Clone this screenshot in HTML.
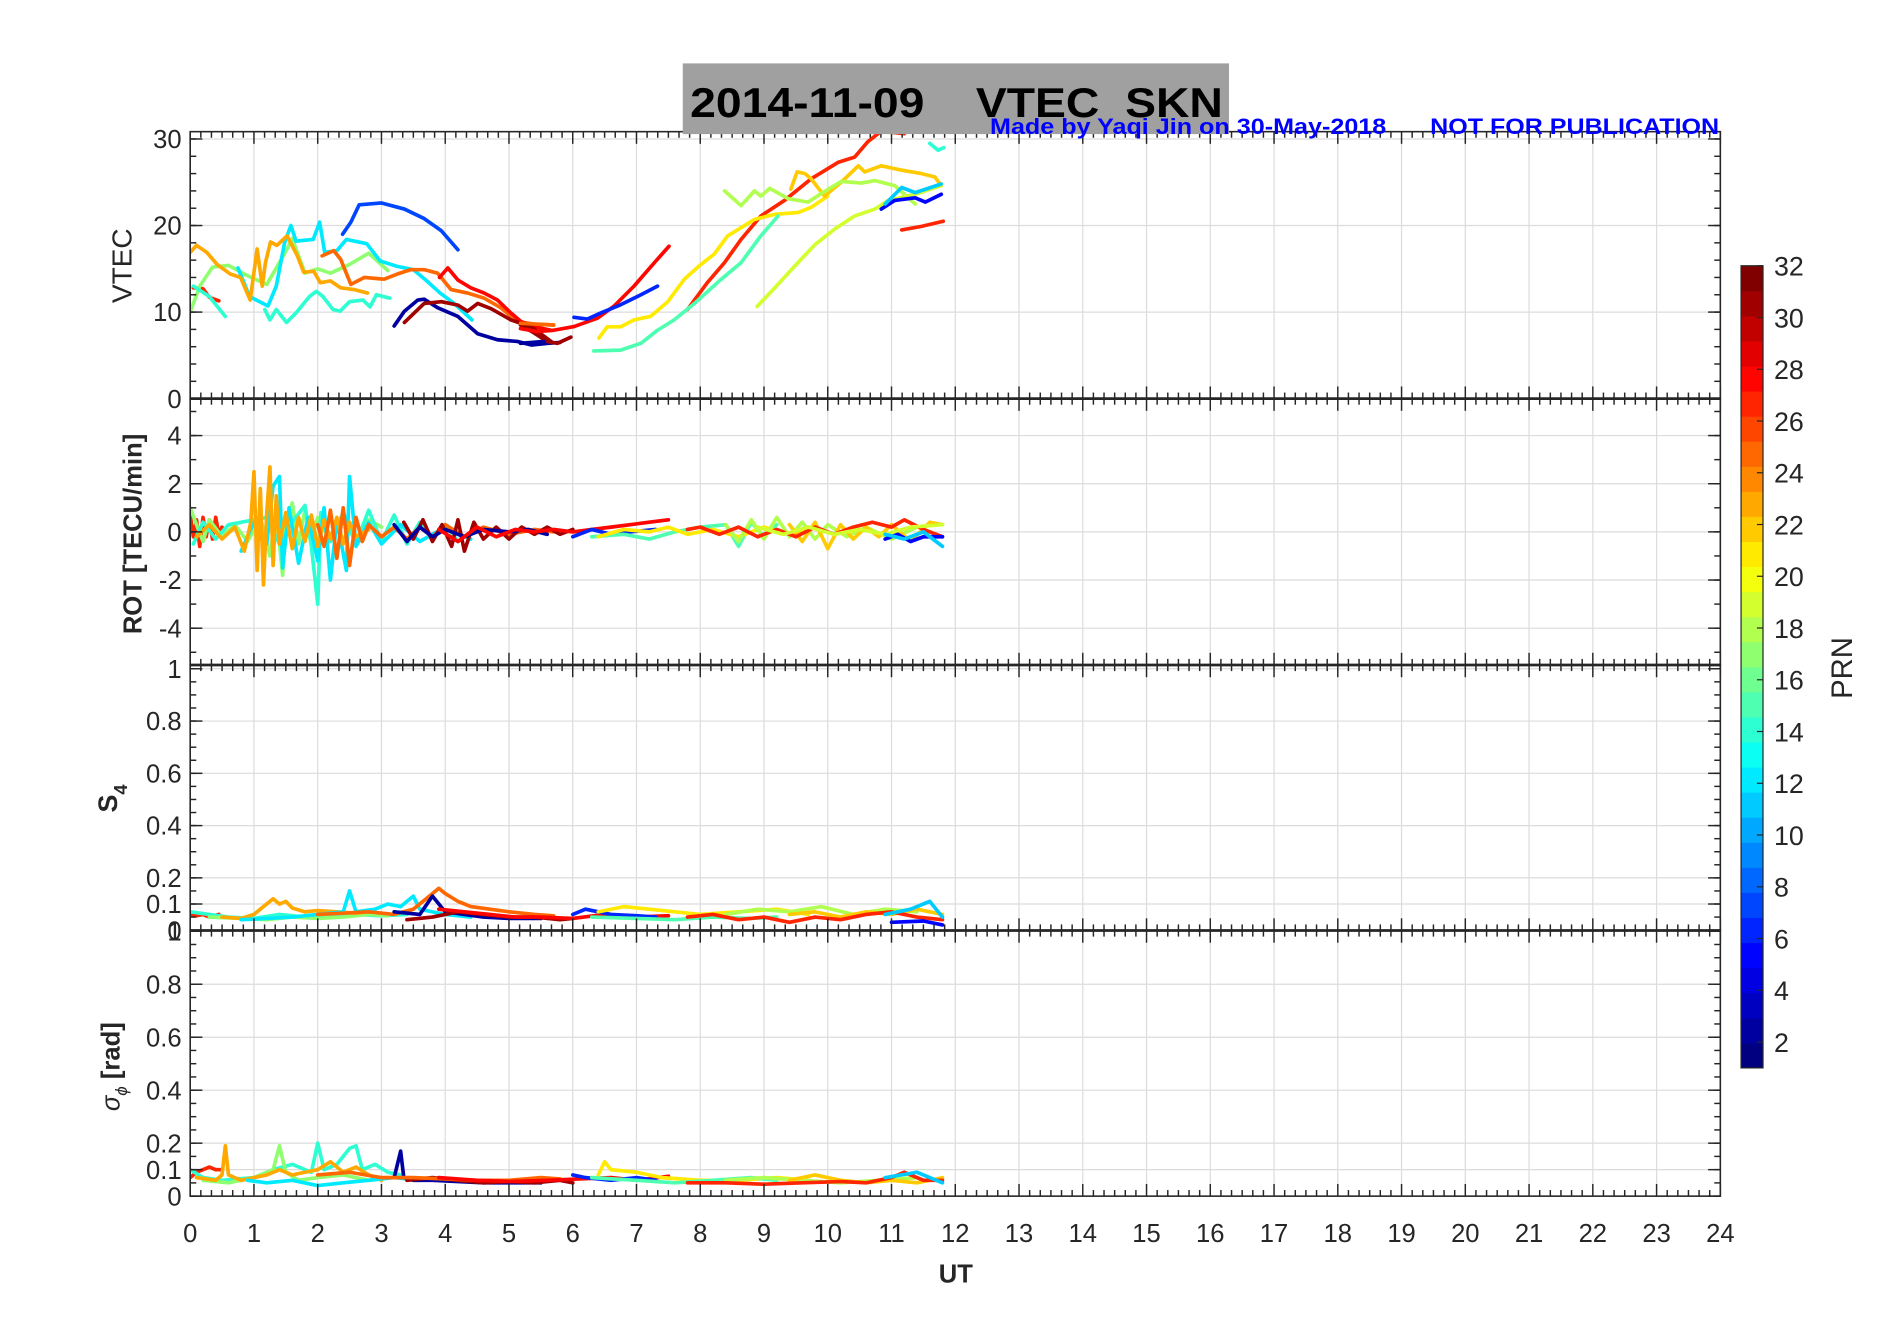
<!DOCTYPE html>
<html><head><meta charset="utf-8"><title>VTEC SKN</title>
<style>html,body{margin:0;padding:0;background:#fff}svg{display:block}</style></head>
<body>
<svg id="chart" width="1902" height="1330" viewBox="0 0 1560 1091" preserveAspectRatio="none" xmlns="http://www.w3.org/2000/svg" font-family="Liberation Sans, sans-serif">
<rect x="0" y="0" width="1560" height="1091" fill="#fff"/>
<g id="grid"></g>
<g id="series"></g>
<g id="axes"></g>
<rect x="560" y="52" width="448" height="58" fill="#a0a0a0"/>
<text x="566" y="96" font-size="34" font-weight="bold" fill="#000" textLength="437" lengthAdjust="spacingAndGlyphs" xml:space="preserve">2014-11-09    VTEC  SKN</text>
<text x="812" y="110" font-size="18" font-weight="bold" fill="#0000ff" textLength="325" lengthAdjust="spacingAndGlyphs">Made by Yaqi Jin on 30-May-2018</text>
<text x="1173" y="110" font-size="18" font-weight="bold" fill="#0000ff" textLength="237" lengthAdjust="spacingAndGlyphs">NOT FOR PUBLICATION</text>
<text transform="translate(108,218) rotate(-90)" text-anchor="middle" font-size="23" fill="#262626">VTEC</text>
<text transform="translate(116,438) rotate(-90)" text-anchor="middle" font-size="21" font-weight="bold" fill="#262626">ROT [TECU/min]</text>
<text transform="translate(96,655) rotate(-90)" text-anchor="middle" font-size="22" font-weight="bold" fill="#262626">S<tspan font-size="15" dy="8">4</tspan></text>
<text transform="translate(98,875) rotate(-90)" text-anchor="middle" font-size="21" font-weight="bold" fill="#262626"><tspan font-style="italic" font-weight="normal">σ</tspan><tspan font-style="italic" font-weight="normal" font-size="14" dy="6">ϕ</tspan><tspan dy="-6"> [rad]</tspan></text>
<text x="784" y="1052" text-anchor="middle" font-size="21" font-weight="bold" fill="#262626">UT</text>
<g id="cbar"></g>
<text transform="translate(1519,548) rotate(-90)" text-anchor="middle" font-size="24" fill="#262626">PRN</text>
</svg>
<script>
// ---------- data ----------
const xTicks = [0,1,2,3,4,5,6,7,8,9,10,11,12,13,14,15,16,17,18,19,20,21,22,23,24];
const vtecTicks = [0,10,20,30];
const rotTicks = [-4,-2,0,2,4];
const s4Ticks = [0,0.1,0.2,0.4,0.6,0.8,1];
const sigTicks = [0,0.1,0.2,0.4,0.6,0.8,1];
const cbarTicks = [2,4,6,8,10,12,14,16,18,20,22,24,26,28,30,32];

const vtecPrn = [27,17,14,12,7,14,23,25,28,2,31,31,2,25,28,6,27,21,22,15,18,19,5,11,27,14];
const vtecT = [
 [0.05,0.2,0.3,0.45],
 [0,0.15,0.35,0.6,0.9,1.2,1.5,1.6,1.8,2.0,2.2,2.5,2.8,3.1],
 [0.05,0.3,0.55],
 [0.75,0.93,1.22,1.35,1.48,1.58,1.66,1.93,2.03,2.11,2.3,2.45,2.77,2.98,3.24,3.5,3.71,3.92,4.13,4.42],
 [2.39,2.52,2.65,3.0,3.36,3.67,3.94,4.2],
 [1.17,1.25,1.35,1.51,1.66,1.87,1.98,2.08,2.24,2.35,2.5,2.71,2.82,2.92,3.13],
 [0,0.1,0.26,0.42,0.63,0.79,0.94,1.05,1.13,1.18,1.26,1.36,1.52,1.68,1.78,1.94,2.04,2.2,2.36,2.57,2.78],
 [2.07,2.25,2.36,2.52,2.73,3.04,3.25,3.46,3.67,3.88,4.09,4.35,4.61,4.87,5.13,5.4,5.7],
 [3.91,4.04,4.2,4.4,4.61,4.82,5.03,5.19,5.4,5.66],
 [3.2,3.36,3.57,3.67,3.88,4.2,4.51,4.82,5.13,5.35,5.61,5.8],
 [3.36,3.67,3.94,4.2,4.35,4.51,4.72,5.03,5.35,5.66],
 [5.18,5.39,5.6,5.76,5.97],
 [5.18,5.55],
 [5.18,5.7],
 [5.18,5.44,5.7,6.02,6.39,6.65,6.96,7.28,7.51],
 [6.02,6.23,6.44,6.75,7.07,7.33],
 [7.8,8.11,8.38,8.64,8.95,9.32,9.74,10.16,10.42,10.63,10.84,11.2],
 [6.41,6.54,6.75,6.96,7.22,7.49,7.75,8.01,8.22,8.43,8.85,9.17,9.54,9.74,10.0],
 [9.42,9.52,9.64,9.74,9.95,10.21,10.48,10.58,10.84,11.16,11.47,11.68,11.78],
 [6.33,6.75,7.07,7.33,7.59,7.91,8.33,8.64,8.95,9.22],
 [8.38,8.64,8.85,8.95,9.09,9.38,9.69,9.9,10.21,10.53,10.74,11.05,11.37],
 [8.89,9.17,9.48,9.8,10.11,10.42,10.74,10.95,11.37,11.78],
 [10.84,11.05,11.37,11.53,11.78],
 [10.9,11.16,11.37,11.78],
 [11.16,11.47,11.81],
 [11.6,11.73,11.82]
];
const vtecV = [
 [12.8,12.7,11.7,11.3],
 [10,13,15.2,15.4,14.2,13.2,17,18.5,14.5,15,14.5,15.5,16.8,14.8],
 [13,11.8,9.5],
 [15.1,11.8,10.7,13,18,20,18.2,18.4,20.4,16.9,17.1,18.4,17.9,15.9,15.3,14.9,13.6,12.2,11.05,9.1],
 [19,20.4,22.4,22.6,21.9,20.8,19.4,17.2],
 [10.3,9.1,10.3,8.8,9.9,11.8,12.4,11.8,10.3,10.1,11.2,11.4,10.6,12,11.6],
 [16.9,17.7,16.9,15.5,14.4,14,11.4,17.3,13,15.7,18.1,17.7,18.8,16.5,14.6,14.7,13.4,13.6,12.8,12.6,12.2],
 [16.5,17.1,16.1,13.2,14,13.8,14.4,14.9,14.9,14.5,12.6,12.2,11.6,10.5,8.9,8.6,8.5],
 [14,15.1,13.7,12.8,12.2,11.4,9.9,8.9,8.3,7.9],
 [8.4,10.1,11.4,11.5,10.5,9.5,7.5,6.8,6.6,6.2,6.4,6.5],
 [8.8,11,11.2,10.8,10.1,11,10.4,9.1,8.3,6.6],
 [8.5,7.6,6.6,6.4,7.1],
 [6.4,6.6],
 [8.7,8.5],
 [8.1,7.75,7.9,8.33,9.3,10.7,13,15.7,17.6],
 [9.4,9.2,9.9,10.85,12,13],
 [10.3,13.4,15.7,18.4,21.1,22.9,25.4,27.3,27.9,29.7,30.9,30.6],
 [7,8.3,8.3,9.1,9.5,11.2,13.8,15.5,16.7,18.8,20.7,21.3,21.5,22.1,23.4],
 [24.2,26.2,26.0,25.4,23.4,25,26.9,26.2,26.9,26.4,26,25.6,24.6],
 [5.5,5.6,6.4,7.9,9.1,11,13.8,15.7,18.8,21.1],
 [24,22.3,24,23.4,24.3,23.1,22.7,23.7,25.1,24.9,25.2,24.6,22.5],
 [10.65,12.8,15.3,17.8,19.6,21.1,21.9,22.9,23.6,24.6],
 [21.9,22.9,23.2,22.7,23.6],
 [22.5,24.4,23.8,24.8],
 [19.5,19.9,20.5],
 [29.5,28.7,29]
];

const rotPrn = [27,17,14,12,23,25,31,2,28,6,15,21,18,22,27,19,5,11];
const rotT = [
 [0,0.05,0.1,0.15,0.2,0.25,0.3,0.35,0.4,0.45,0.5],
 [0,0.1,0.2,0.3,0.5,0.7,0.9,1.1,1.25,1.35,1.45,1.5,1.6,1.7,1.8,1.9,2.0,2.2,2.4,2.6,2.8,3.0],
 [0.05,0.2,0.4,0.6,1.2,1.4,1.6,1.8,1.9,2.0,2.05,2.2,2.4,2.6,2.8,3.0,3.2,3.4,3.6,3.8,4.0,4.2],
 [0.8,1.0,1.2,1.3,1.4,1.45,1.55,1.7,1.85,2.0,2.1,2.2,2.3,2.45,2.5,2.6,2.8,3.0,3.3,3.6,4.0,4.4],
 [0.1,0.3,0.5,0.7,0.85,0.95,1.0,1.05,1.1,1.15,1.2,1.25,1.3,1.35,1.4,1.5,1.6,1.7,1.8,1.9,2.0,2.1,2.2,2.3,2.4,2.5,2.6,2.8],
 [2.0,2.1,2.2,2.3,2.4,2.5,2.6,2.7,2.8,3.0,3.2,3.4,3.6,3.8,4.0,4.3,4.6,5.0,5.4,5.7],
 [3.35,3.5,3.65,3.8,3.95,4.1,4.2,4.3,4.45,4.6,4.8,5.0,5.2,5.4,5.6,5.8,6.0],
 [3.2,3.4,3.6,3.8,4.0,4.3,4.6,5.0,5.3,5.6],
 [3.9,4.2,4.5,4.8,5.1,5.4,5.7,6.0,6.3,6.6,6.9,7.2,7.5],
 [6.0,6.3,6.6,6.9,7.3],
 [6.3,6.8,7.2,7.6,8.0,8.4,8.6,8.8,9.0,9.2],
 [6.4,6.8,7.2,7.5,7.8,8.2,8.6,9.0,9.4,9.7],
 [8.4,8.6,8.8,9.0,9.2,9.4,9.6,9.8,10.0,10.3,10.6,11.0,11.4],
 [9.4,9.6,9.8,10.0,10.2,10.4,10.6,10.8,11.0,11.3,11.6,11.8],
 [7.8,8.0,8.3,8.6,8.9,9.2,9.5,9.8,10.1,10.4,10.7,11.0,11.2,11.5,11.8],
 [8.9,9.3,9.7,10.1,10.5,10.9,11.3,11.8],
 [10.9,11.1,11.3,11.5,11.8],
 [10.9,11.2,11.5,11.8]
];
const rotV = [
 [0.7,-0.2,0.5,-0.6,0.6,-0.2,0.5,-0.3,0.6,-0.1,0.2],
 [1.0,0.3,-0.4,0.5,-0.2,0.3,-0.4,0.6,-1.0,0.9,-1.8,0.4,1.2,-0.5,0.9,-0.3,0.6,-0.4,0.4,-0.3,0.5,0.2],
 [-0.5,0.4,-0.3,0.3,0.6,-0.5,0.4,1.1,-0.6,-3.0,0.8,-0.4,0.8,-0.5,0.9,-0.4,0.7,-0.5,0.4,-0.3,0.3,-0.4],
 [-0.8,0.4,-0.5,1.9,2.3,-1.5,1.0,-1.3,0.6,-1.2,1.0,-2.0,0.5,-1.6,2.3,-0.6,0.4,-0.5,0.3,-0.4,0.2,-0.3],
 [-0.2,0.3,-0.3,0.2,-0.8,0.4,2.5,-1.6,1.8,-2.2,0.8,2.7,-1.4,1.5,-0.5,0.8,-0.7,0.6,-0.4,0.7,-0.6,0.5,-0.3,0.6,-0.5,0.4,-0.2,0.1],
 [0.3,-0.6,0.9,-1.1,1.0,-1.4,0.6,-0.4,0.3,-0.2,0.2,-0.3,0.2,-0.2,0.3,-0.2,0.2,-0.1,0.1,0.0],
 [0.4,-0.3,0.5,-0.4,0.3,-0.6,0.5,-0.8,0.4,-0.3,0.2,-0.3,0.2,-0.1,0.2,-0.1,0.1],
 [0.3,-0.4,0.2,-0.2,0.1,-0.2,0.1,0.0,0.1,-0.1],
 [0.1,-0.4,0.2,-0.2,0.1,0.0,0.1,0.0,0.1,0.2,0.3,0.4,0.5],
 [-0.2,0.1,-0.1,0.0,0.1],
 [-0.2,-0.1,-0.3,0.0,0.2,0.3,-0.6,0.4,-0.2,0.3],
 [-0.2,0.1,0.0,0.2,-0.1,0.1,-0.2,0.2,-0.1,0.1],
 [0.3,-0.4,0.5,-0.3,0.6,-0.2,0.4,-0.3,0.3,-0.2,0.2,-0.3,0.2],
 [0.3,-0.4,0.4,-0.7,0.3,-0.3,0.2,-0.2,0.3,-0.4,0.4,0.3],
 [0.1,0.2,-0.1,0.2,-0.2,0.1,-0.2,0.2,-0.1,0.2,0.4,0.2,0.5,0.1,-0.2],
 [0.2,-0.1,0.2,-0.1,0.1,-0.1,0.2,0.3],
 [-0.3,-0.1,-0.4,-0.2,-0.2],
 [-0.1,-0.3,0.0,-0.6]
];

const s4Prn = [27,14,17,23,12,25,2,31,28,6,21,15,18,22,27,11,5];
const s4T = [
 [0,0.1,0.2,0.3,0.45],
 [0,0.3,0.6,1.0,1.4,1.8,2.2,2.6,3.0,3.4],
 [0.3,0.8,1.2,1.6,2.0,2.4,2.8,3.1],
 [0.5,0.8,1.0,1.1,1.3,1.4,1.5,1.6,1.8,2.0,2.3,2.6,2.8],
 [0.8,1.2,1.6,2.0,2.4,2.5,2.6,2.9,3.1,3.3,3.5,3.6,3.8,4.0,4.4],
 [2.0,2.4,2.8,3.2,3.5,3.7,3.9,4.0,4.2,4.4,4.7,5.0,5.4,5.7],
 [3.2,3.6,3.8,4.0,4.3,4.6,5.0,5.5],
 [3.4,3.8,4.2,4.6,5.0,5.4,5.8,6.0],
 [3.9,4.3,4.7,5.1,5.5,6.0,6.5,7.0,7.5],
 [6.0,6.2,6.6,7.0,7.3],
 [6.4,6.8,7.2,7.6,8.0,8.6,9.2,9.7],
 [6.3,7.0,7.6,8.2,8.8,9.2],
 [8.4,8.9,9.4,9.9,10.4,10.9,11.4],
 [9.4,9.8,10.2,10.6,11.0,11.4,11.8],
 [7.8,8.2,8.6,9.0,9.4,9.8,10.2,10.6,11.0,11.4,11.8],
 [10.9,11.3,11.6,11.8],
 [11.0,11.5,11.8]
];
const s4V = [
 [0.06,0.055,0.06,0.05,0.06],
 [0.07,0.06,0.05,0.045,0.06,0.05,0.055,0.06,0.055,0.06],
 [0.05,0.045,0.04,0.05,0.045,0.05,0.06,0.055],
 [0.05,0.045,0.06,0.08,0.12,0.1,0.11,0.085,0.07,0.075,0.07,0.065,0.07],
 [0.04,0.045,0.05,0.06,0.07,0.15,0.07,0.08,0.1,0.09,0.13,0.08,0.07,0.06,0.05],
 [0.06,0.065,0.07,0.06,0.08,0.12,0.16,0.14,0.11,0.09,0.08,0.07,0.06,0.055],
 [0.07,0.06,0.13,0.07,0.06,0.05,0.045,0.045],
 [0.04,0.05,0.07,0.06,0.05,0.05,0.04,0.045],
 [0.08,0.07,0.06,0.05,0.05,0.045,0.06,0.05,0.055],
 [0.06,0.08,0.06,0.055,0.05],
 [0.07,0.09,0.08,0.07,0.06,0.07,0.08,0.06],
 [0.05,0.045,0.04,0.05,0.045,0.05],
 [0.06,0.08,0.07,0.09,0.06,0.08,0.07],
 [0.06,0.07,0.05,0.07,0.06,0.08,0.06],
 [0.05,0.06,0.04,0.05,0.03,0.05,0.04,0.06,0.07,0.05,0.04],
 [0.06,0.08,0.11,0.05],
 [0.03,0.035,0.02]
];

const sigPrn = [27,14,17,23,12,2,31,25,28,6,21,15,18,22,27,11];
const sigT = [
 [0,0.1,0.2,0.3,0.4,0.5],
 [0,0.2,0.5,1.0,1.3,1.6,1.9,2.0,2.1,2.3,2.5,2.6,2.7,2.9,3.1,3.3],
 [0.2,0.6,1.0,1.3,1.4,1.5,1.7,2.0,2.4,2.8,3.0],
 [0.1,0.4,0.5,0.55,0.6,0.8,1.0,1.2,1.4,1.6,1.8,2.0,2.2,2.4,2.6,2.8,3.0],
 [0.9,1.2,1.6,2.0,2.4,2.8,3.2,3.6,4.0,4.4],
 [3.2,3.3,3.35,3.5,3.8,4.2,4.6,5.0,5.5],
 [3.4,3.8,4.2,4.6,5.0,5.4,5.8,6.0],
 [2.0,2.5,3.0,3.5,4.0,4.5,5.0,5.5,5.8],
 [3.9,4.5,5.0,5.6,6.1,6.6,7.0,7.5],
 [6.0,6.2,6.6,7.0,7.3],
 [6.4,6.5,6.6,7.0,7.4,8.0,8.6,9.2,9.7],
 [6.3,7.0,7.6,8.2,8.8,9.2],
 [8.4,9.0,9.6,10.2,10.8,11.4],
 [9.4,9.8,10.2,10.6,11.0,11.4,11.8],
 [7.8,8.4,9.0,9.6,10.2,10.6,11.0,11.2,11.5,11.8],
 [10.9,11.4,11.8]
];
const sigV = [
 [0.07,0.09,0.1,0.11,0.1,0.1],
 [0.1,0.07,0.06,0.07,0.1,0.12,0.09,0.2,0.1,0.12,0.18,0.19,0.1,0.12,0.09,0.08],
 [0.06,0.05,0.07,0.1,0.19,0.09,0.06,0.07,0.08,0.06,0.07],
 [0.07,0.06,0.08,0.19,0.08,0.06,0.07,0.08,0.1,0.08,0.09,0.1,0.13,0.09,0.11,0.08,0.06],
 [0.06,0.05,0.06,0.04,0.05,0.06,0.07,0.06,0.065,0.055],
 [0.07,0.17,0.07,0.06,0.06,0.055,0.05,0.05,0.05],
 [0.06,0.07,0.06,0.05,0.055,0.05,0.06,0.05],
 [0.08,0.09,0.07,0.07,0.065,0.06,0.06,0.07,0.065],
 [0.07,0.06,0.055,0.06,0.065,0.07,0.06,0.075],
 [0.08,0.07,0.06,0.07,0.06],
 [0.08,0.13,0.1,0.09,0.07,0.06,0.06,0.07,0.06],
 [0.07,0.06,0.05,0.06,0.07,0.06],
 [0.06,0.07,0.06,0.05,0.06,0.07],
 [0.06,0.08,0.06,0.05,0.06,0.05,0.07],
 [0.05,0.05,0.045,0.05,0.055,0.05,0.07,0.09,0.06,0.06],
 [0.07,0.09,0.05]
];

// ---------- layout ----------
const NS = 'http://www.w3.org/2000/svg';
const X0 = 156, X1 = 1411, XMAX = 24;
const xScale = t => X0 + (X1 - X0) * t / XMAX;
const panels = [
 {name:'vtec', top:108, bottom:327, y0:327, k:7.1, v0:0, ticks:vtecTicks, minor:2, minMin:0, minMax:30, fmt:v=>String(v), prn:vtecPrn, T:vtecT, V:vtecV},
 {name:'rot', top:327, bottom:545.5, y0:436.3, k:19.75, v0:0, ticks:rotTicks, minor:1, minMin:-5, minMax:5, fmt:v=>String(v), prn:rotPrn, T:rotT, V:rotV},
 {name:'s4', top:545.5, bottom:763.3, y0:763, k:214.4, v0:0, ticks:s4Ticks, minor:0.05, minMin:0, minMax:1, fmt:v=>String(v), prn:s4Prn, T:s4T, V:s4V},
 {name:'sigma', top:763.3, bottom:981.2, y0:981.2, k:217.3, v0:0, ticks:sigTicks, minor:0.05, minMin:0, minMax:1, fmt:v=>String(v), prn:sigPrn, T:sigT, V:sigV}
];

function jet(i, n) {
  const x = i / (n - 1);
  const c = v => Math.round(255 * Math.max(0, Math.min(1, v)));
  const r = c(1.5 - Math.abs(4 * x - 3)), g = c(1.5 - Math.abs(4 * x - 2)), b = c(1.5 - Math.abs(4 * x - 1));
  return `rgb(${r},${g},${b})`;
}
const prnColor = p => jet(p - 1, 32);

function mk(tag, attrs, parent) {
  const el = document.createElementNS(NS, tag);
  for (const k in attrs) el.setAttribute(k, attrs[k]);
  parent.appendChild(el);
  return el;
}
const gGrid = document.getElementById('grid');
const gSeries = document.getElementById('series');
const gAxes = document.getElementById('axes');
const dark = '#262626';

panels.forEach(p => {
  const yS = v => p.y0 - (v - p.v0) * p.k;
  // gridlines
  xTicks.forEach(t => {
    if (t === 0 || t === 24) return;
    const l = mk('line', {x1:xScale(t), x2:xScale(t), y1:p.top, y2:p.bottom, stroke:'#dcdcdc', 'stroke-width':1}, gGrid);
    
    
  });
  p.ticks.forEach(v => {
    const y = yS(v);
    if (Math.abs(y - p.bottom) < 1) return;
    const l = mk('line', {x1:X0, x2:X1, y1:y, y2:y, stroke:'#dcdcdc', 'stroke-width':1}, gGrid);
    
    
  });
  // series
  const clipId = 'clip-' + p.name;
  const cp = mk('clipPath', {id:clipId}, gSeries);
  mk('rect', {x:X0, y:p.top, width:X1 - X0, height:p.bottom - p.top}, cp);
  const g = mk('g', {'clip-path':`url(#${clipId})`}, gSeries);
  
  
  p.prn.forEach((prn, i) => {
    const pts = p.T[i].map((t, j) => xScale(t).toFixed(1) + ',' + yS(p.V[i][j]).toFixed(1)).join(' ');
    const pl = mk('polyline', {points:pts, fill:'none', stroke:prnColor(prn), 'stroke-width':3, 'stroke-linejoin':'round', 'stroke-linecap':'round'}, g);
    
    
  });
  // box
  const box = mk('rect', {x:X0, y:p.top, width:X1 - X0, height:p.bottom - p.top, fill:'none', stroke:dark, 'stroke-width':1.3}, gAxes);
  
  
  // x ticks top and bottom
  for (let m = 0; m <= 24 * 6; m++) {
    const x = xScale(m / 6);
    const major = m % 6 === 0;
    const len = major ? 10 : 5;
    mk('line', {x1:x, x2:x, y1:p.top, y2:p.top + len, stroke:dark, 'stroke-width':1.2}, gAxes);
    mk('line', {x1:x, x2:x, y1:p.bottom, y2:p.bottom - len, stroke:dark, 'stroke-width':1.2}, gAxes);
  }
  // y minor ticks
  const nMin = Math.round((p.minMax - p.minMin) / p.minor);
  for (let i = 0; i <= nMin; i++) {
    const v = p.minMin + i * p.minor;
    const y = yS(v);
    if (y < p.top - 0.5 || y > p.bottom + 0.5) continue;
    mk('line', {x1:X0, x2:X0 + 5, y1:y, y2:y, stroke:dark, 'stroke-width':1.2}, gAxes);
    mk('line', {x1:X1, x2:X1 - 5, y1:y, y2:y, stroke:dark, 'stroke-width':1.2}, gAxes);
  }
  p.ticks.forEach(v => {
    const y = yS(v);
    mk('line', {x1:X0, x2:X0 + 10, y1:y, y2:y, stroke:dark, 'stroke-width':1.2}, gAxes);
    mk('line', {x1:X1, x2:X1 - 10, y1:y, y2:y, stroke:dark, 'stroke-width':1.2}, gAxes);
    const tx = mk('text', {x:X0 - 7, y:y + 7.5, 'text-anchor':'end', 'font-size':21, fill:dark}, gAxes);
    tx.textContent = p.fmt(v);
    
    
  });
});
// thick separators
[327, 545.5, 763.3].forEach(y => {
  const l = mk('line', {x1:X0, x2:X1, y1:y, y2:y, stroke:dark, 'stroke-width':2.2}, gAxes);
  
  
});
// x tick labels
xTicks.forEach(t => {
  const tx = mk('text', {x:xScale(t), y:1019, 'text-anchor':'middle', 'font-size':21, fill:dark}, gAxes);
  tx.textContent = String(t);
  
  
});
// colorbar
const gC = document.getElementById('cbar');
const CB_X = 1428, CB_W = 18, CB_TOP = 218, CB_BOT = 876, CB_MIN = 1, CB_MAX = 32;
const cbY = v => CB_BOT - (v - CB_MIN) / (CB_MAX - CB_MIN) * (CB_BOT - CB_TOP);
const band = (CB_BOT - CB_TOP) / 32;
for (let i = 0; i < 32; i++) {
  const r = mk('rect', {x:CB_X, y:CB_BOT - (i + 1) * band, width:CB_W, height:band + 0.4, fill:jet(i, 32)}, gC);
  
  
}
mk('rect', {x:CB_X, y:CB_TOP, width:CB_W, height:CB_BOT - CB_TOP, fill:'none', stroke:dark, 'stroke-width':1}, gC);
cbarTicks.forEach(v => {
  const y = cbY(v);
  mk('line', {x1:CB_X + CB_W, x2:CB_X + CB_W - 5, y1:y, y2:y, stroke:dark, 'stroke-width':1}, gC);
  const tx = mk('text', {x:CB_X + 27, y:y + 8, 'font-size':22, fill:dark}, gC);
  tx.textContent = String(v);
  
  
});
</script>
</body></html>
